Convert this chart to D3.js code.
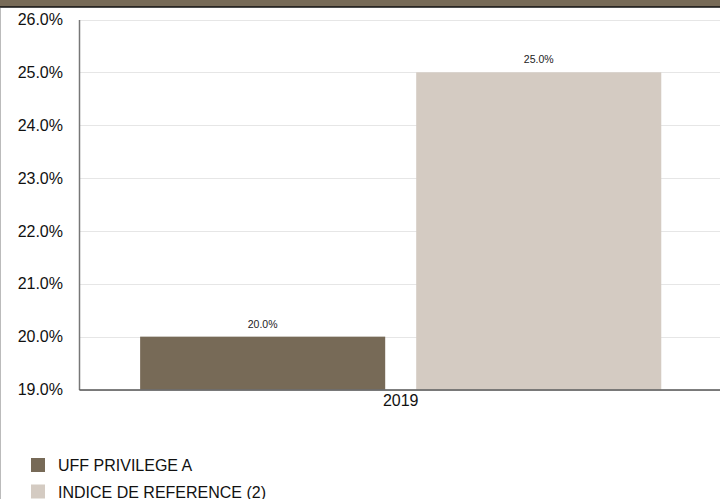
<!DOCTYPE html>
<html>
<head>
<meta charset="utf-8">
<script src="https://cdn.jsdelivr.net/npm/d3@7"></script>
<style>
  body { margin: 0; background: #fff; }
  svg { display: block; font-family: "Liberation Sans", Arial, sans-serif; }
</style>
</head>
<body>
<div id="chart"></div>
<script>
var categories = ["2019"];
var seriesNames = ["UFF PRIVILEGE A", "INDICE DE REFERENCE (2)"];
var seriesColors = ["#776a57", "#d4cbc2"];
var seriesValues = [[20.0], [25.0]];
var yTicks = [19, 20, 21, 22, 23, 24, 25, 26];

var width = 720, height = 499;
var plotLeft = 79, plotRight = 720, plotTop = 19.5, plotBottom = 389.5;

var svg = d3.select("#chart").append("svg")
    .attr("width", width)
    .attr("height", height);

// bandeau du haut
svg.append("rect").attr("x", 0).attr("y", 0).attr("width", width).attr("height", 7).attr("fill", "#776a57");
svg.append("line").attr("x1", 0).attr("x2", width).attr("y1", 7).attr("y2", 7)
    .attr("stroke", "#111").attr("stroke-width", 1.5);
svg.append("line").attr("x1", 0.5).attr("x2", 0.5).attr("y1", 8).attr("y2", height)
    .attr("stroke", "#bbb");

var y = d3.scaleLinear().domain([19, 26]).range([plotBottom, plotTop]);

var x0 = d3.scaleBand().domain(categories).range([plotLeft, plotRight])
    .paddingInner(0).paddingOuter(0.115).align(0.51);
var x1 = d3.scaleBand().domain(d3.range(seriesNames.length)).range([0, x0.bandwidth()]).paddingInner(0.1123);

// grille
svg.append("g").selectAll("line")
    .data(yTicks)
    .enter().append("line")
    .attr("x1", plotLeft).attr("x2", plotRight)
    .attr("y1", function(d) { return Math.round(y(d)) + 0.5; })
    .attr("y2", function(d) { return Math.round(y(d)) + 0.5; })
    .attr("stroke", "#e6e6e6");

// barres
seriesNames.forEach(function(name, s) {
    svg.append("g").selectAll("rect")
        .data(categories)
        .enter().append("rect")
        .attr("x", function(d) { return x0(d) + x1(s); })
        .attr("y", function(d, i) { return y(seriesValues[s][i]); })
        .attr("width", x1.bandwidth())
        .attr("height", function(d, i) { return plotBottom - y(seriesValues[s][i]); })
        .attr("fill", seriesColors[s]);

    svg.append("g").selectAll("text")
        .data(categories)
        .enter().append("text")
        .attr("x", function(d) { return x0(d) + x1(s) + x1.bandwidth() / 2; })
        .attr("y", function(d, i) { return y(seriesValues[s][i]) - 9; })
        .attr("text-anchor", "middle")
        .attr("font-size", 10.5)
        .attr("fill", "#222")
        .text(function(d, i) { return seriesValues[s][i].toFixed(1) + "%"; });
});

// axe Y
var yAxis = d3.axisLeft(y).tickValues(yTicks).tickSize(0).tickPadding(16)
    .tickFormat(function(d) { return d.toFixed(1) + "%"; });
var gy = svg.append("g").attr("transform", "translate(" + plotLeft + ",0)").call(yAxis);
gy.select(".domain").attr("stroke", "#777").attr("stroke-width", 1.5);
gy.selectAll("text").attr("font-size", 16).attr("fill", "#111")
    .attr("font-family", "Liberation Sans, Arial, sans-serif");

// axe X
var xAxis = d3.axisBottom(x0).tickSize(0).tickPadding(5);
var gx = svg.append("g").attr("transform", "translate(0," + plotBottom + ")").call(xAxis);
gx.select(".domain").attr("stroke", "#555").attr("stroke-width", 1.5);
gx.selectAll("text").attr("font-size", 16).attr("fill", "#111")
    .attr("font-family", "Liberation Sans, Arial, sans-serif");

// légende
var legend = svg.append("g").selectAll("g")
    .data(seriesNames)
    .enter().append("g")
    .attr("transform", function(d, i) { return "translate(31," + (458 + i * 26.5) + ")"; });
legend.append("rect").attr("width", 14).attr("height", 14)
    .attr("fill", function(d, i) { return seriesColors[i]; });
legend.append("text").attr("x", 27).attr("y", 13).attr("font-size", 16).attr("fill", "#111")
    .text(function(d) { return d; });
</script>
</body>
</html>
